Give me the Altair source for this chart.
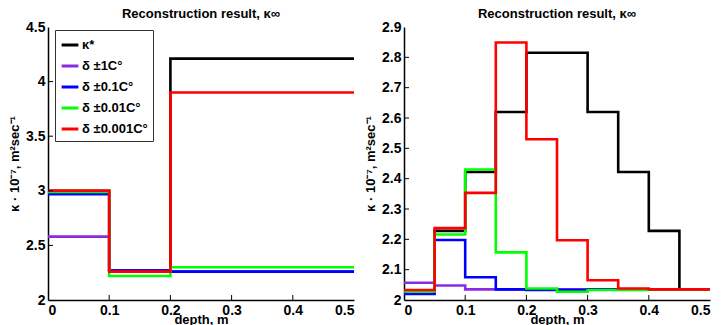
import altair as alt
import pandas as pd

series = ["κ*", "δ ±1C°", "δ ±0.1C°", "δ ±0.01C°", "δ ±0.001C°"]
colors = ["#000000", "#8A2BE2", "#0000FF", "#00FF00", "#FF0000"]

x_ticks = [0, 0.1, 0.2, 0.3, 0.4, 0.5]
left_y_ticks = [2, 2.5, 3, 3.5, 4, 4.5]
right_y_ticks = [2, 2.1, 2.2, 2.3, 2.4, 2.5, 2.6, 2.7, 2.8, 2.9]

# left panel: steps at 0, 0.1, 0.2 (last value repeated at 0.5)
left_x = [0.0, 0.1, 0.2, 0.5]
left_vals = {
    "κ*": [3.00, 2.27, 4.21],
    "δ ±1C°": [2.58, 2.27, 2.26],
    "δ ±0.1C°": [2.97, 2.27, 2.26],
    "δ ±0.01C°": [2.99, 2.22, 2.30],
    "δ ±0.001C°": [3.00, 2.26, 3.90],
}

# right panel: steps every 0.05
right_x = [0.0, 0.05, 0.1, 0.15, 0.2, 0.25, 0.3, 0.35, 0.4, 0.45, 0.5]
right_vals = {
    "κ*": [2.030, 2.228, 2.422, 2.620, 2.815, 2.815, 2.620, 2.422, 2.228, 2.035],
    "δ ±1C°": [2.057, 2.048, 2.035, 2.035, 2.035, 2.035, 2.035, 2.035, 2.035, 2.035],
    "δ ±0.1C°": [2.020, 2.198, 2.075, 2.035, 2.033, 2.033, 2.035, 2.035, 2.035, 2.035],
    "δ ±0.01C°": [2.028, 2.216, 2.430, 2.157, 2.038, 2.027, 2.033, 2.033, 2.035, 2.035],
    "δ ±0.001C°": [2.033, 2.237, 2.353, 2.849, 2.530, 2.197, 2.065, 2.038, 2.035, 2.035],
}


def frame(xs, vals):
    rows = []
    for k, s in enumerate(series):
        v = vals[s] + [vals[s][-1]]
        for x, y in zip(xs, v):
            rows.append({"depth": x, "kappa": y, "series": s, "ord": k})
    return pd.DataFrame(rows)


FONT = "Liberation Sans"
W, H = 306, 273
color_scale = alt.Scale(domain=series, range=colors)


def panel(df, ymin, ymax, yticks, legend):
    xs = alt.Scale(domain=[0, 0.5], nice=False)
    ys = alt.Scale(domain=[ymin, ymax], nice=False, zero=False)
    xaxis = alt.Axis(title="depth, m", values=x_ticks, format=".1~f",
                     titlePadding=-4, labelOverlap=False)
    yaxis = alt.Axis(title="κ · 10⁻⁷, m²sec⁻¹", values=yticks, format=".1~f",
                     titlePadding=4, labelOverlap=False)
    enc_color = alt.Color(
        "series:N",
        scale=color_scale,
        legend=alt.Legend(
            title=None,
            orient="none",
            legendX=7,
            legendY=3,
            strokeColor="#333333",
            fillColor="white",
            padding=5,
            labelFont=FONT,
            labelFontWeight="bold",
            labelFontSize=13,
            symbolType="stroke",
            symbolStrokeWidth=3,
            symbolSize=280,
            rowPadding=4,
            labelOffset=2,
        ) if legend else None,
    )
    lines = alt.Chart(df).mark_line(interpolate="step-after", strokeWidth=2.6, clip=True).encode(
        x=alt.X("depth:Q", scale=xs, axis=xaxis),
        y=alt.Y("kappa:Q", scale=ys, axis=yaxis),
        color=enc_color,
        order=alt.Order("ord:Q"),
    )
    xt = alt.Chart(pd.DataFrame({"depth": x_ticks[1:-1]})).mark_rule(color="black", strokeWidth=1).encode(
        x=alt.X("depth:Q", scale=xs, axis=xaxis), y=alt.value(H), y2=alt.value(H - 5)
    )
    yt = alt.Chart(pd.DataFrame({"kappa": yticks[1:-1]})).mark_rule(color="black", strokeWidth=1).encode(
        y=alt.Y("kappa:Q", scale=ys, axis=yaxis), x=alt.value(0), x2=alt.value(5)
    )
    return alt.layer(lines, xt, yt).properties(
        width=W,
        height=H,
        title=alt.TitleParams("Reconstruction result, κ∞", font=FONT, fontSize=13,
                              fontWeight="bold", offset=-1),
    )


left = panel(frame(left_x, left_vals), 2.0, 4.5, left_y_ticks, True)
right = panel(frame(right_x, right_vals), 2.0, 2.9, right_y_ticks, False)

chart = (
    alt.hconcat(left, right, spacing=10)
    .configure_view(stroke=None)
    .configure_axis(
        grid=False,
        domainColor="black",
        domainWidth=1.5,
        ticks=False,
        labelFont=FONT,
        labelFontWeight="bold",
        labelFontSize=14,
        labelColor="black",
        titleFont=FONT,
        titleFontWeight="bold",
        titleFontSize=13,
        titleColor="black",
        labelPadding=3,
    )
    .properties(padding={"left": 0, "top": 0, "right": 4, "bottom": 0})
)

chart.save("out.html", embed_options={"renderer": "svg", "actions": False})
